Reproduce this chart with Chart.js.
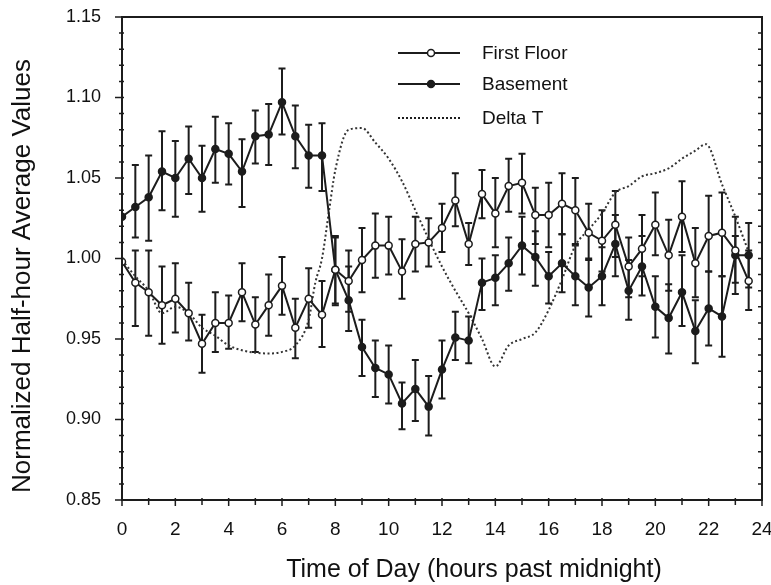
<!DOCTYPE html>
<html>
<head>
<meta charset="utf-8">
<script src="https://cdn.jsdelivr.net/npm/chart.js@4"></script>
<style>
  html, body { margin: 0; padding: 0; background: #ffffff; }
  #wrap { width: 771px; height: 585px; position: relative; }
</style>
</head>
<body>
<div id="wrap"><canvas id="c" width="771" height="585"></canvas></div>
<script>
// ---- data ----
const hours = [0, 0.5, 1, 1.5, 2, 2.5, 3, 3.5, 4, 4.5, 5, 5.5, 6, 6.5, 7, 7.5,
  8, 8.5, 9, 9.5, 10, 10.5, 11, 11.5, 12, 12.5, 13, 13.5, 14, 14.5, 15, 15.5,
  16, 16.5, 17, 17.5, 18, 18.5, 19, 19.5, 20, 20.5, 21, 21.5, 22, 22.5, 23, 23.5];

const firstFloor = [0.998, 0.985, 0.979, 0.971, 0.975, 0.966, 0.947, 0.960, 0.960, 0.979, 0.959, 0.971,
  0.983, 0.957, 0.975, 0.965, 0.993, 0.986, 0.999, 1.008, 1.008, 0.992, 1.009, 1.010,
  1.019, 1.036, 1.009, 1.040, 1.028, 1.045, 1.047, 1.027, 1.027, 1.034, 1.030, 1.016,
  1.011, 1.021, 0.995, 1.006, 1.021, 1.002, 1.026, 0.997, 1.014, 1.016, 1.005, 0.986];
const firstFloorHigh = [null, 1.005, 1.005, 0.995, 0.997, 0.985, 0.965, 0.979, 0.977, 0.997, 0.976, 0.990,
  1.001, 0.975, 0.994, 0.986, 1.013, 1.005, 1.019, 1.028, 1.026, 1.012, 1.026, 1.025,
  1.034, 1.053, 1.022, 1.055, 1.050, 1.062, 1.065, 1.044, 1.047, 1.053, 1.050, 1.034,
  1.030, 1.042, 1.013, 1.027, 1.041, 1.024, 1.048, 1.019, 1.039, 1.041, 1.026, 1.005];
const firstFloorLow = [null, 0.958, 0.952, 0.947, 0.954, 0.949, 0.929, 0.942, 0.944, 0.961, 0.942, 0.952,
  0.965, 0.938, 0.957, 0.945, 0.972, 0.967, 0.979, 0.988, 0.990, 0.975, 0.992, 0.995,
  1.004, 1.020, 0.996, 1.025, 1.007, 1.029, 1.028, 1.009, 1.007, 1.015, 1.009, 0.999,
  0.992, 1.001, 0.976, 0.989, 1.002, 0.980, 1.004, 0.976, 0.992, 0.989, 0.985, 0.968];

const basement = [1.026, 1.032, 1.038, 1.054, 1.050, 1.062, 1.050, 1.068, 1.065, 1.054, 1.076, 1.077,
  1.097, 1.076, 1.064, 1.064, 0.993, 0.974, 0.945, 0.932, 0.928, 0.910, 0.919, 0.908,
  0.931, 0.951, 0.949, 0.985, 0.988, 0.997, 1.008, 1.001, 0.989, 0.997, 0.989, 0.982,
  0.989, 1.009, 0.980, 0.995, 0.970, 0.963, 0.979, 0.955, 0.969, 0.964, 1.002, 1.002];
const basementHigh = [null, 1.058, 1.064, 1.079, 1.073, 1.082, 1.070, 1.088, 1.084, 1.074, 1.092, 1.096,
  1.118, 1.095, 1.083, 1.084, 1.014, 0.995, 0.962, 0.949, 0.946, 0.923, 0.937, 0.927,
  0.949, 0.967, 0.964, 1.000, 1.002, 1.013, 1.026, 1.017, 1.004, 1.015, 1.008, 1.000,
  1.007, 1.027, 0.999, 1.014, 0.989, 0.984, 1.002, 0.974, 0.992, 0.989, 1.014, 1.022];
const basementLow = [null, 1.013, 1.011, 1.030, 1.026, 1.040, 1.029, 1.047, 1.046, 1.032, 1.059, 1.058,
  1.077, 1.056, 1.044, 1.042, 0.971, 0.955, 0.927, 0.914, 0.910, 0.894, 0.899, 0.890,
  0.913, 0.937, 0.935, 0.968, 0.971, 0.980, 0.990, 0.983, 0.972, 0.979, 0.971, 0.964,
  0.971, 0.989, 0.962, 0.977, 0.951, 0.941, 0.958, 0.935, 0.946, 0.939, 0.978, 0.982];

const deltaTHours = [0, 0.5, 1, 1.5, 2, 2.5, 3, 3.5, 4, 4.5, 5, 5.5, 6, 6.5, 7, 7.25, 7.5, 7.75,
  8, 8.5, 9, 9.5, 10, 10.5, 11, 11.5, 12, 12.5, 13, 13.5, 14, 14.5, 15, 15.5, 16, 16.5,
  17, 17.5, 18, 18.5, 19, 19.5, 20, 20.5, 21, 21.5, 21.9, 22.5, 23, 23.5];
const deltaT = [0.999, 0.989, 0.980, 0.966, 0.970, 0.966, 0.957, 0.952, 0.946, 0.943, 0.9415, 0.941,
  0.942, 0.946, 0.962, 0.985, 1.000, 1.028, 1.055, 1.080, 1.081, 1.072, 1.062, 1.048, 1.030, 1.012,
  0.995, 0.980, 0.966, 0.950, 0.933, 0.946, 0.950, 0.954, 0.968, 0.987, 1.008, 1.018, 1.028, 1.041,
  1.045, 1.051, 1.053, 1.056, 1.062, 1.067, 1.071, 1.046, 1.026, 1.004];

const legendLabels = ['First Floor', 'Basement', 'Delta T'];
const xTitle = 'Time of Day (hours past midnight)';
const yTitle = 'Normalized Half-hour Average Values';

// ---- helpers ----
const INK = '#1c1c1c';
const FONT = '"Liberation Sans", Arial, Helvetica, sans-serif';
const pts = (xs, ys) => xs.map((x, i) => ({ x: x, y: ys[i] }));

const errorBarPlugin = {
  id: 'errorBars',
  beforeDatasetsDraw(chart) {
    const ctx = chart.ctx, xs = chart.scales.x, ys = chart.scales.y;
    const sets = [[firstFloorHigh, firstFloorLow], [basementHigh, basementLow]];
    ctx.save();
    ctx.strokeStyle = INK;
    ctx.lineWidth = 2;
    sets.forEach(([hi, lo]) => {
      hours.forEach((h, i) => {
        if (hi[i] == null || lo[i] == null) return;
        const px = xs.getPixelForValue(h);
        const y1 = ys.getPixelForValue(hi[i]);
        const y2 = ys.getPixelForValue(lo[i]);
        ctx.beginPath();
        ctx.moveTo(px, y1); ctx.lineTo(px, y2);
        ctx.moveTo(px - 3.5, y1); ctx.lineTo(px + 3.5, y1);
        ctx.moveTo(px - 3.5, y2); ctx.lineTo(px + 3.5, y2);
        ctx.stroke();
      });
    });
    ctx.restore();
  }
};

const framePlugin = {
  id: 'frame',
  afterDraw(chart) {
    const ctx = chart.ctx, a = chart.chartArea, xs = chart.scales.x, ys = chart.scales.y;
    ctx.save();
    ctx.strokeStyle = INK;
    ctx.lineWidth = 2;
    ctx.strokeRect(a.left, a.top, a.right - a.left, a.bottom - a.top);
    ctx.lineWidth = 1.5;
    ctx.beginPath();
    // bottom ticks every hour
    for (let h = 0; h <= 24; h++) {
      const px = xs.getPixelForValue(h);
      const major = h % 2 === 0;
      ctx.moveTo(px, a.bottom - 2);
      ctx.lineTo(px, a.bottom + (major ? 6 : 5));
    }
    // left & right ticks every 0.01
    for (let k = 0; k <= 30; k++) {
      const v = 0.85 + k * 0.01;
      const py = ys.getPixelForValue(v);
      const major = k % 5 === 0;
      ctx.moveTo(a.left + 2, py);
      ctx.lineTo(a.left - (major ? 7 : 3), py);
      ctx.moveTo(a.right, py);
      ctx.lineTo(a.right - 4, py);
    }
    ctx.stroke();

    // axis titles
    ctx.fillStyle = '#111';
    ctx.textAlign = 'center';
    ctx.textBaseline = 'alphabetic';
    ctx.font = '25px ' + FONT;
    ctx.fillText(xTitle, 474, 577);
    ctx.save();
    ctx.font = '26px ' + FONT;
    ctx.translate(30, 276);
    ctx.rotate(-Math.PI / 2);
    ctx.fillText(yTitle, 0, 0);
    ctx.restore();

    // legend
    const rows = [53, 84, 118];
    ctx.font = '19px ' + FONT;
    ctx.textAlign = 'left';
    ctx.textBaseline = 'middle';
    rows.forEach((ry, i) => {
      ctx.strokeStyle = INK;
      ctx.lineWidth = 2;
      ctx.setLineDash(i === 2 ? [2, 2] : []);
      ctx.beginPath();
      ctx.moveTo(398, ry); ctx.lineTo(460, ry);
      ctx.stroke();
      ctx.setLineDash([]);
      if (i < 2) {
        ctx.beginPath();
        ctx.arc(431, ry, 3.5, 0, Math.PI * 2);
        ctx.fillStyle = i === 0 ? '#ffffff' : INK;
        ctx.fill();
        ctx.lineWidth = 1.5;
        ctx.stroke();
      }
      ctx.fillStyle = '#111';
      ctx.fillText(legendLabels[i], 482, ry + 1);
    });
    ctx.restore();
  }
};

new Chart(document.getElementById('c'), {
  type: 'line',
  data: {
    datasets: [
      {
        label: legendLabels[2],
        data: pts(deltaTHours, deltaT),
        borderColor: '#333',
        borderWidth: 2,
        borderDash: [2, 2.5],
        pointRadius: 0,
        cubicInterpolationMode: 'monotone',
        order: 3
      },
      {
        label: legendLabels[1],
        data: pts(hours, basement),
        borderColor: INK,
        borderWidth: 2,
        pointRadius: 3.5,
        pointBackgroundColor: INK,
        pointBorderColor: INK,
        pointBorderWidth: 1.5,
        tension: 0,
        order: 2
      },
      {
        label: legendLabels[0],
        data: pts(hours, firstFloor),
        borderColor: INK,
        borderWidth: 2,
        pointRadius: 3.5,
        pointBackgroundColor: '#ffffff',
        pointBorderColor: INK,
        pointBorderWidth: 1.5,
        tension: 0,
        order: 1
      }
    ]
  },
  options: {
    responsive: false,
    animation: false,
    events: [],
    layout: { padding: { top: 17, right: 9, left: 0, bottom: 0 } },
    plugins: { legend: { display: false }, tooltip: { enabled: false }, title: { display: false } },
    scales: {
      x: {
        type: 'linear',
        min: 0, max: 24,
        grid: { display: false },
        border: { display: false },
        ticks: { stepSize: 2, padding: 10, color: '#111', font: { family: FONT, size: 19 }, maxRotation: 0 },
        afterFit(s) { s.height = 85; s.paddingLeft = 0; s.paddingRight = 0; s.paddingTop = 0; s.paddingBottom = 0; }
      },
      y: {
        type: 'linear',
        min: 0.85, max: 1.15,
        grid: { display: false },
        border: { display: false },
        ticks: {
          stepSize: 0.05, padding: 13, color: '#111', font: { family: FONT, size: 18 },
          callback: (v) => Number(v).toFixed(2)
        },
        afterFit(s) { s.width = 122; s.paddingLeft = 0; s.paddingRight = 0; s.paddingTop = 0; s.paddingBottom = 0; }
      }
    }
  },
  plugins: [errorBarPlugin, framePlugin]
});
</script>
</body>
</html>
